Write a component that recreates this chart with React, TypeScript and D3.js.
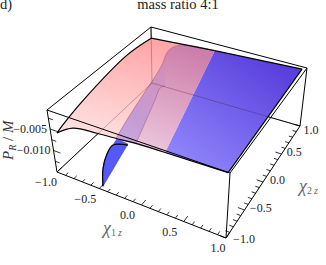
import React from "react";
import * as d3 from "d3";

const W = 326;
const H = 265;

// readings: [chi1z, chi2z, P_R/M]
const leftEdge = [
  [-0.925, -1, -0.00535],
  [-1, -0.76, -0.00636],
  [-1, -0.34, -0.00478],
  [-1, 0.53, -0.00276],
  [-1, 1, -0.00348],
];
const backEdgePink = [
  [-1, 1, -0.00348],
  [-0.18, 1, -0.00233],
];
const backEdgeBlue = [
  [-0.18, 1, -0.00233],
  [0.94, 1, -0.00118],
];
const rightEdge = [
  [0.94, 1, -0.00118],
  [0.98, -1, -0.00067],
];
const frontEdgePink = [
  [-0.925, -1, -0.00535],
  [-0.73, -1, -0.00283],
  [-0.46, -1, -0.00204],
  [-0.2, -1, -0.00161],
  [0, -1, -0.00118],
  [0.29, -1, -0.00103],
];
const frontEdgeBlue = [
  [0.29, -1, -0.00103],
  [0.98, -1, -0.00067],
];
const foldLeft = [
  [-0.25, -1, -0.00175],
  [-0.33, -0.62, -0.00204],
  [-0.428, -0.058, -0.00204],
  [-0.504, 0.346, -0.00204],
  [-0.55, 0.524, -0.00204],
  [-0.618, 0.716, -0.00204],
  [-0.624, 0.828, -0.00204],
  [-0.549, 0.932, -0.00204],
  [-0.18, 1, -0.00233],
];
const foldRight = [
  [-0.03, -1, -0.00125],
  [-0.264, -0.14, -0.00204],
  [-0.33, 0.086, -0.00204],
  [-0.304, 0.144, -0.00204],
];
const curtainCurve = [
  [-0.452, -1, -0.01414],
  [-0.432, -1, -0.01003],
  [-0.368, -1, -0.0061],
  [-0.29, -1, -0.00348],
  [-0.12, -1, -0.0023],
];
const curtainTop = [
  [-0.29, -1, -0.00348],
  [-0.24, -1, -0.00175],
  [-0.12, -1, -0.00204],
];
const chi1Labels = [-1, -0.5, 0, 0.5, 1];
const chi2Labels = [-1, -0.5, 0, 0.5, 1];
const prLabels = [-0.005, -0.01];
const prTicks = [-0.0025, -0.005, -0.0075, -0.01, -0.0125];

const xScale = d3.scaleLinear().domain([-1, 1]).range([0, 1]);
const yScale = d3.scaleLinear().domain([-1, 1]).range([0, 1]);
const zScale = d3.scaleLinear().domain([-0.015, -0.0006]).range([0, 1]);

// box corners on screen: column [x, y] at bottom and top
const colL = [d3.scaleLinear().range([57, 47]), d3.scaleLinear().range([172, 110])];
const colF = [d3.scaleLinear().range([226, 230]), d3.scaleLinear().range([238, 173])];
const colR = [d3.scaleLinear().range([300, 307]), d3.scaleLinear().range([126, 68])];
const colB = [d3.scaleLinear().range([152, 151]), d3.scaleLinear().range([83, 27])];

function project(p: number[]): [number, number] {
  const u = xScale(p[0]);
  const v = yScale(p[1]);
  const w = zScale(p[2]);
  const at = (i: number) =>
    (1 - u) * (1 - v) * colL[i](w) +
    u * (1 - v) * colF[i](w) +
    u * v * colR[i](w) +
    (1 - u) * v * colB[i](w);
  return [at(0), at(1)];
}

const straight = d3.line().curve(d3.curveLinear);
const smooth = d3.line().curve(d3.curveCatmullRom.alpha(0.5));

const seg = (pts: number[][], gen = straight) => gen(pts.map(project) as [number, number][]) as string;
const rev = (pts: number[][]) => [...pts].reverse();
// join several pieces into one closed outline
const outline = (parts: string[]) =>
  parts.map((s, i) => (i === 0 ? s : "L" + s.slice(1))).join("") + "Z";

const Z0 = -0.015;
const Z1 = -0.0006;
const edge = (a: number[], b: number[]) => seg([a, b]);

const backLines = [
  edge([-1, -1, Z0], [-1, 1, Z0]),
  edge([-1, 1, Z0], [1, 1, Z0]),
  edge([-1, 1, Z0], [-1, 1, Z1]),
];
const frontLines = [
  edge([-1, -1, Z0], [1, -1, Z0]),
  edge([1, -1, Z0], [1, 1, Z0]),
  edge([-1, -1, Z0], [-1, -1, Z1]),
  edge([1, -1, Z0], [1, -1, Z1]),
  edge([1, 1, Z0], [1, 1, Z1]),
  edge([-1, -1, Z1], [-1, 1, Z1]),
  edge([-1, 1, Z1], [1, 1, Z1]),
  edge([1, 1, Z1], [1, -1, Z1]),
  edge([1, -1, Z1], [-1, -1, Z1]),
];

const pinkPath = outline([
  seg(leftEdge, smooth),
  seg(backEdgePink),
  seg([backEdgePink[1], frontEdgePink[5]]),
  seg(rev(frontEdgePink), smooth),
]);
const bluePath = outline([
  seg(backEdgeBlue),
  seg(rightEdge),
  seg(rev(frontEdgeBlue)),
]);
const foldPath = outline([
  seg(foldLeft, smooth),
  seg([foldLeft[8], frontEdgePink[5]]),
  seg([frontEdgePink[5], foldLeft[0]]),
]);
const bandPath = outline([
  seg(foldLeft.slice(0, 6), smooth),
  seg(rev(foldRight), smooth),
]);
const curtainPath = outline([seg(curtainCurve.slice(0, 4), smooth), seg(curtainTop.slice(1))]);

const fmt1 = d3.format(".1f");
const minus = (s: string) => s.replace("-", "\u2212");

function App() {
  const chiTicks = d3.range(-10, 11).map((d) => d / 10);
  const isMajor = (d: number) => Math.abs(d * 2 - Math.round(d * 2)) < 1e-6;
  const serif = "'Liberation Serif', serif";
  return (
    <svg
      width={W}
      height={H}
      style={{ position: "absolute", left: 0, top: 0, display: "block", background: "#fff" }}
      fontFamily={serif}
    >
      <defs>
        <linearGradient id="pink" gradientUnits="userSpaceOnUse" x1={140} y1={40} x2={110} y2={140}>
          <stop offset="0" stopColor="#ffa6a8" />
          <stop offset="1" stopColor="#ffe0e0" />
        </linearGradient>
        <linearGradient id="blue" gradientUnits="userSpaceOnUse" x1={265} y1={55} x2={190} y2={160}>
          <stop offset="0" stopColor="#5a3fdc" />
          <stop offset="1" stopColor="#8c82fa" />
        </linearGradient>
        <linearGradient id="fold" gradientUnits="userSpaceOnUse" x1={190} y1={50} x2={150} y2={150}>
          <stop offset="0" stopColor="#cd7eaa" />
          <stop offset="1" stopColor="#ecc6dc" />
        </linearGradient>
        <linearGradient id="band" gradientUnits="userSpaceOnUse" x1={165} y1={68} x2={135} y2={115}>
          <stop offset="0" stopColor="#6a50dc" stopOpacity="0.02" />
          <stop offset="1" stopColor="#6a50dc" stopOpacity="0.26" />
        </linearGradient>
      </defs>

      <g fill="none" stroke="#000" strokeWidth={1}>
        {backLines.map((d, i) => (
          <path key={i} d={d} />
        ))}
      </g>

      <path d={curtainPath} fill="#5558fb" stroke="#2a2aa0" strokeWidth={0.5} />
      <path d={seg(curtainCurve, smooth)} fill="none" stroke="#000" strokeWidth={1.2} />

      <path d={pinkPath} fill="url(#pink)" />
      <path d={bluePath} fill="url(#blue)" />
      <path d={foldPath} fill="url(#fold)" />
      <path d={bandPath} fill="url(#band)" />

      <g fill="none" stroke="#3a1010" strokeWidth={0.8} opacity={0.35}>
        {backLines.map((d, i) => (
          <path key={i} d={d} />
        ))}
      </g>
      <g fill="none" stroke="#8a3a70" strokeWidth={0.8} opacity={0.5}>
        <path d={seg(foldLeft, smooth)} />
        <path d={seg(foldRight, smooth)} />
      </g>

      <g fill="none" stroke="#000" strokeWidth={1.2}>
        <path d={seg(leftEdge, smooth)} />
        <path d={seg(frontEdgePink, smooth)} />
        <path d={seg(frontEdgeBlue)} />
        <path d={seg(backEdgePink)} />
        <path d={seg(backEdgeBlue)} />
        <path d={seg(rightEdge)} />
      </g>

      <g fill="none" stroke="#000" strokeWidth={1}>
        {frontLines.map((d, i) => (
          <path key={i} d={d} />
        ))}
      </g>

      {/* ticks */}
      <g stroke="#000" strokeWidth={0.8}>
        {chiTicks.map((d) => (
          <path key={"x" + d} d={edge([d, -1, Z0], [d, isMajor(d) ? -0.9 : -0.94, Z0])} />
        ))}
        {chiTicks.map((d) => (
          <path key={"y" + d} d={edge([1, d, Z0], [isMajor(d) ? 0.92 : 0.95, d, Z0])} />
        ))}
        {prTicks.map((d) => (
          <path key={"z" + d} d={edge([-1, -1, d], [prLabels.includes(d) ? -0.92 : -0.95, -1, d])} />
        ))}
      </g>

      {/* tick labels */}
      <g fontSize={12} fill="#222" textAnchor="middle">
        {chi1Labels.map((d) => {
          const [x, y] = project([d, -1, Z0]);
          const dx = d === -1 ? -11 : d === 1 ? -8 : -14;
          return (
            <text key={d} x={x + dx} y={y + 14}>
              {minus(fmt1(d))}
            </text>
          );
        })}
        {chi2Labels.map((d) => {
          const [x, y] = project([1, d, Z0]);
          const dx = d3.scaleLinear().domain([-1, 1]).range([18, 11])(d);
          return (
            <text key={d} x={x + dx} y={y + (d === 1 ? 8 : d === -1 ? 5 : 2)}>
              {minus(fmt1(d))}
            </text>
          );
        })}
      </g>
      <g fontSize={12} fill="#222" textAnchor="end">
        {prLabels.map((d) => {
          const [x, y] = project([-1, -1, d]);
          return (
            <text key={d} x={x - 3} y={y + 4}>
              {minus(d3.format(".3f")(d))}
            </text>
          );
        })}
      </g>

      {/* axis labels */}
      <text x={103} y={234} fontSize={18} fill="#666" fontStyle="italic">
        {"\u03c7"}
        <tspan fontSize={10} dy={2} fontStyle="normal">1</tspan>
        <tspan fontSize={10} dx={2}>z</tspan>
      </text>
      <text x={299} y={192} fontSize={18} fill="#666" fontStyle="italic">
        {"\u03c7"}
        <tspan fontSize={10} dy={2} fontStyle="normal">2</tspan>
        <tspan fontSize={10} dx={2}>z</tspan>
      </text>
      <text transform="translate(13,160) rotate(-90)" fontSize={15} fill="#333" fontStyle="italic">
        P
        <tspan fontSize={10} dy={3}>R</tspan>
        <tspan dy={-3} fontStyle="normal">{" / "}</tspan>
        <tspan>M</tspan>
      </text>

      <text x={178} y={9} fontSize={14.5} fill="#222" textAnchor="middle">
        mass ratio 4:1
      </text>
      <text x={0} y={9} fontSize={14.5} fill="#222">
        d)
      </text>
    </svg>
  );
}

export default App;
